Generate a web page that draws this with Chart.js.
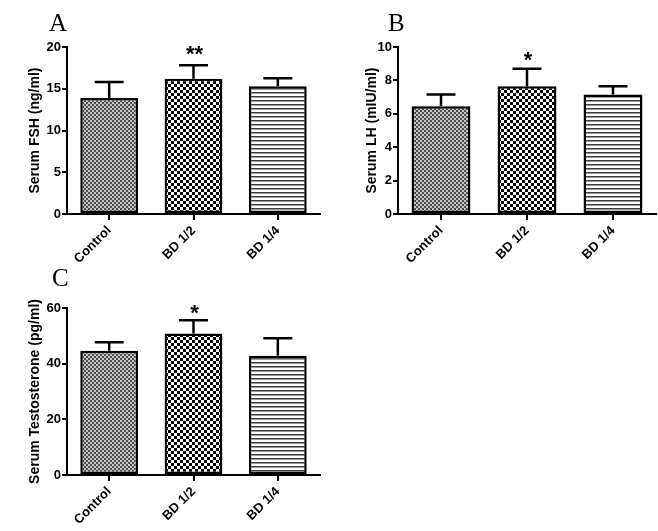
<!DOCTYPE html>
<html>
<head>
<meta charset="utf-8">
<script src="https://cdn.jsdelivr.net/npm/chart.js@4.4.1/dist/chart.umd.min.js"></script>
<style>
  html, body { margin: 0; padding: 0; background: #fff; }
  #wrap { position: relative; width: 658px; height: 531px; overflow: hidden; background: #fff; }
  canvas { position: absolute; }
  .lbl { position: absolute; font-family: "Liberation Serif", "Times New Roman", serif; font-size: 25px; color: #000; line-height: 1; }
</style>
</head>
<body>
<div id="wrap">
  <canvas id="cA" width="330" height="262" style="left:0;top:0"></canvas>
  <canvas id="cB" width="328" height="262" style="left:330px;top:0"></canvas>
  <canvas id="cC" width="330" height="269" style="left:0;top:262px"></canvas>
  <div class="lbl" style="left:49px;top:10px">A</div>
  <div class="lbl" style="left:388px;top:10px">B</div>
  <div class="lbl" style="left:52px;top:265px">C</div>
</div>
<script>
// ---- data ----
const categories = ['Control', 'BD 1/2', 'BD 1/4'];
const fshMean = [13.9, 16.2, 15.3];
const fshErr  = [1.9, 1.6, 0.95];
const fshSig  = ['', '**', ''];
const lhMean  = [6.45, 7.65, 7.15];
const lhErr   = [0.7, 1.05, 0.5];
const lhSig   = ['', '*', ''];
const tMean   = [44.6, 50.8, 42.8];
const tErr    = [3.1, 4.8, 6.3];
const tSig    = ['', '*', ''];
const fshTicks = [0, 5, 10, 15, 20];
const lhTicks  = [0, 2, 4, 6, 8, 10];
const tTicks   = [0, 20, 40, 60];

// ---- patterns ----
function makePattern(w, h, draw) {
  const c = document.createElement('canvas');
  c.width = w; c.height = h;
  const g = c.getContext('2d');
  draw(g);
  return document.getElementById('cA').getContext('2d').createPattern(c, 'repeat');
}
const patControl = makePattern(4, 4, g => {
  g.fillStyle = '#c4c4c4'; g.fillRect(0, 0, 4, 4);
  g.fillStyle = '#4e4e4e'; g.fillRect(0, 0, 2, 2); g.fillRect(2, 2, 2, 2);
});
const patHalf = makePattern(6, 6, g => {
  g.fillStyle = '#ffffff'; g.fillRect(0, 0, 6, 6);
  g.fillStyle = '#000000'; g.fillRect(0, 0, 3, 3); g.fillRect(3, 3, 3, 3);
});
const patQuarter = makePattern(1, 4, g => {
  g.fillStyle = '#ffffff'; g.fillRect(0, 0, 1, 4);
  g.fillStyle = '#3c3c3c'; g.fillRect(0, 0, 1, 1);
  g.fillStyle = '#9a9a9a'; g.fillRect(0, 1, 1, 1);
});

const FONT = '"Liberation Sans", Arial, sans-serif';

const errorPlugin = {
  id: 'errbars',
  afterDatasetsDraw(chart, args, opts) {
    const ctx = chart.ctx;
    const meta = chart.getDatasetMeta(0);
    const y = chart.scales.y;
    ctx.save();
    meta.data.forEach((bar, i) => {
      const v = opts.mean[i], e = opts.err[i];
      const yTop = y.getPixelForValue(v + e);
      const yBar = y.getPixelForValue(v);
      ctx.strokeStyle = '#000';
      ctx.lineWidth = 2.5;
      ctx.beginPath();
      ctx.moveTo(bar.x, yBar);
      ctx.lineTo(bar.x, yTop);
      ctx.moveTo(bar.x - 14.5, yTop);
      ctx.lineTo(bar.x + 14.5, yTop);
      ctx.stroke();
      if (opts.sig[i]) {
        ctx.fillStyle = '#000';
        ctx.font = 'bold 22px ' + FONT;
        ctx.textAlign = 'center';
        ctx.textBaseline = 'alphabetic';
        ctx.fillText(opts.sig[i], bar.x + 1, yTop - opts.sigGap);
      }
    });
    ctx.restore();
  }
};

function makePanel(id, cfg) {
  const canvas = document.getElementById(id);
  const H = canvas.height, W = canvas.width;
  new Chart(canvas, {
    type: 'bar',
    data: {
      labels: categories,
      datasets: [{
        data: cfg.mean,
        backgroundColor: [patControl, patHalf, patQuarter],
        borderColor: '#000',
        borderWidth: 2.5,
        borderSkipped: false,
        barPercentage: 0.685,
        categoryPercentage: 1.0
      }]
    },
    options: {
      responsive: false,
      animation: false,
      devicePixelRatio: 1,
      layout: { padding: { left: 0, top: cfg.top, right: W - cfg.right, bottom: 0 } },
      plugins: {
        legend: { display: false },
        tooltip: { enabled: false },
        errbars: { mean: cfg.mean, err: cfg.err, sig: cfg.sig, sigGap: cfg.sigGap }
      },
      scales: {
        x: {
          afterFit(s) { s.height = H - cfg.bottom; },
          grid: { display: true, offset: false, drawOnChartArea: false, drawTicks: true, tickLength: 6, color: '#000', lineWidth: 2 },
          border: { display: true, color: '#000', width: 2 },
          ticks: {
            color: '#000', font: { family: FONT, size: 13, weight: 'bold' },
            maxRotation: 45, minRotation: 45, padding: 3, autoSkip: false
          }
        },
        y: {
          min: 0, max: cfg.max,
          afterFit(s) { s.width = cfg.left; },
          afterBuildTicks(s) { s.ticks = cfg.ticks.map(v => ({ value: v })); },
          grid: { display: true, drawOnChartArea: false, drawTicks: true, tickLength: 5, color: '#000', lineWidth: 2 },
          border: { display: true, color: '#000', width: 2 },
          ticks: { color: '#000', font: { family: FONT, size: 13, weight: 'bold' }, padding: 1 },
          title: {
            display: true, text: cfg.title, color: '#000',
            font: { family: FONT, size: 14, weight: 'bold' },
            padding: { top: cfg.titlePad, bottom: 0 }
          }
        }
      }
    },
    plugins: [errorPlugin]
  });
}

makePanel('cA', { mean: fshMean, err: fshErr, sig: fshSig, ticks: fshTicks, max: 20,
  title: 'Serum FSH (ng/ml)', left: 67, right: 320, top: 47, bottom: 214, titlePad: 27, sigGap: 4 });
makePanel('cB', { mean: lhMean, err: lhErr, sig: lhSig, ticks: lhTicks, max: 10,
  title: 'Serum LH (mIU/ml)', left: 68, right: 326, top: 47, bottom: 214, titlePad: 34, sigGap: 2 });
makePanel('cC', { mean: tMean, err: tErr, sig: tSig, ticks: tTicks, max: 60,
  title: 'Serum Testosterone (pg/ml)', left: 67, right: 320, top: 46, bottom: 213, titlePad: 27, sigGap: 0 });
</script>
</body>
</html>
